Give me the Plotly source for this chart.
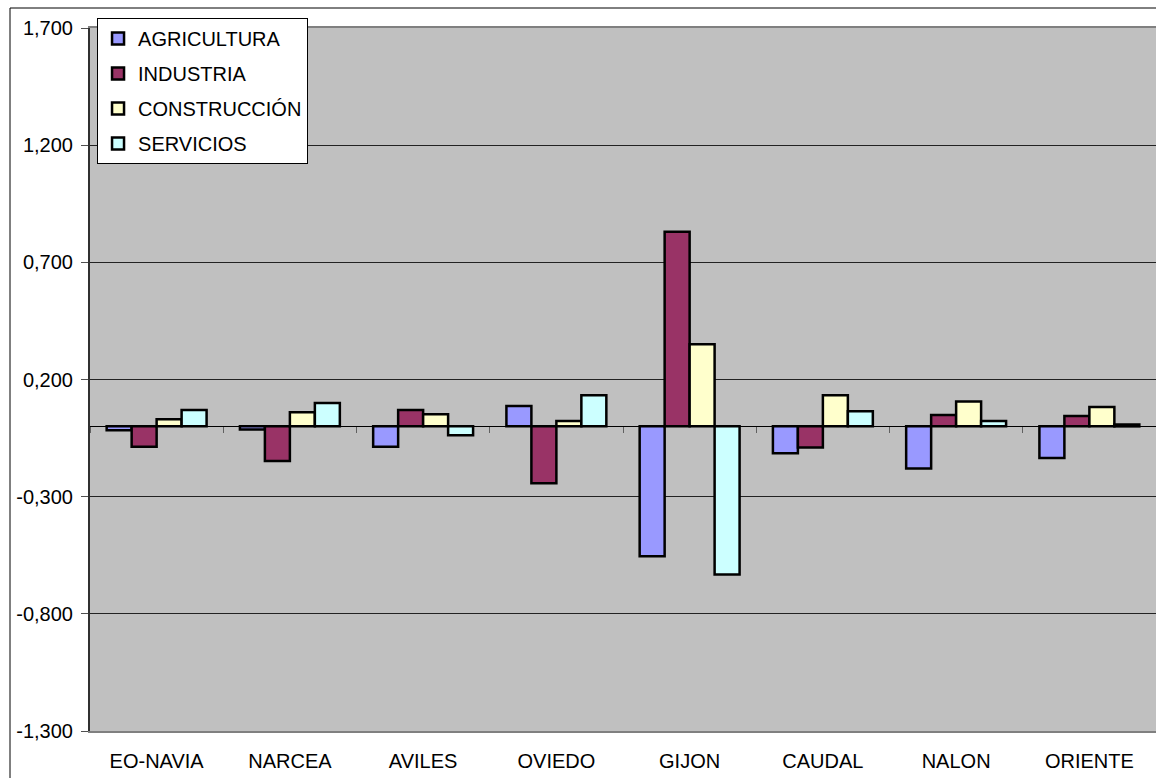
import plotly.graph_objects as go

categories = ["EO-NAVIA", "NARCEA", "AVILES", "OVIEDO", "GIJON", "CAUDAL", "NALON", "ORIENTE"]
agricultura = [-0.017, -0.013, -0.087, 0.087, -0.554, -0.115, -0.180, -0.135]
industria = [-0.087, -0.148, 0.070, -0.243, 0.830, -0.090, 0.048, 0.044]
construccion = [0.030, 0.060, 0.052, 0.023, 0.350, 0.133, 0.106, 0.083]
servicios = [0.070, 0.100, -0.038, 0.133, -0.632, 0.065, 0.023, 0.008]

series_names = ["AGRICULTURA", "INDUSTRIA", "CONSTRUCCIÓN", "SERVICIOS"]
series_values = [agricultura, industria, construccion, servicios]
series_colors = ["#9999FF", "#993366", "#FFFFCC", "#CCFFFF"]

y_tickvals = [1.7, 1.2, 0.7, 0.2, -0.3, -0.8, -1.3]
y_ticktext = ["1,700", "1,200", "0,700", "0,200", "-0,300", "-0,800", "-1,300"]
y_min, y_max = -1.3, 1.7

FONT = "Arial, Liberation Sans, sans-serif"

fig = go.Figure()
for i, (name, vals, col) in enumerate(zip(series_names, series_values, series_colors)):
    fig.add_trace(go.Bar(
        x=categories, y=vals, name=name,
        marker=dict(color=col, line=dict(color="black", width=2.5)),
        legendgroup=f"g{i}",
    ))

# invisible helper trace for category-boundary ticks on the zero line
fig.add_trace(go.Scatter(
    x=categories, y=[0] * len(categories), xaxis="x2", yaxis="y",
    mode="markers", marker=dict(opacity=0), showlegend=False, hoverinfo="skip",
))

fig.update_layout(
    width=1156, height=778,
    margin=dict(l=90, r=0, t=28, b=47),
    paper_bgcolor="white",
    plot_bgcolor="#C0C0C0",
    barmode="group", bargap=0.25, bargroupgap=0,
    font=dict(family=FONT, size=20, color="black"),
    showlegend=True,
    legend=dict(
        x=0.0066, y=(731 - 18) / 703, xanchor="left", yanchor="top",
        bgcolor="white", bordercolor="black", borderwidth=1,
        font=dict(family=FONT, size=20, color="black"),
        traceorder="grouped", tracegroupgap=6,
        itemwidth=30,
    ),
    xaxis=dict(
        type="category", showgrid=False, ticks="",
        showline=True, linecolor="#808080", linewidth=2, mirror=True,
        tickfont=dict(size=20), range=[-0.5, 7.5],
        ticklabelstandoff=11,
    ),
    xaxis2=dict(
        type="category", overlaying="x", anchor="free",
        position=(0 - y_min) / (y_max - y_min),
        side="bottom", showgrid=False, showline=False,
        ticks="outside", tickson="boundaries", ticklen=6, tickwidth=1,
        tickcolor="#606060", showticklabels=False, range=[-0.5, 7.5],
    ),
    yaxis=dict(
        range=[y_min, y_max], tickvals=y_tickvals, ticktext=y_ticktext,
        showgrid=True, gridcolor="#222222", gridwidth=1,
        zeroline=True, zerolinecolor="black", zerolinewidth=1,
        showline=True, linecolor="#303030", linewidth=2,
        ticks="outside", ticklen=7, tickcolor="#505050",
        tickfont=dict(size=20), ticklabelstandoff=4,
    ),
    shapes=[dict(
        type="rect", xref="paper", yref="paper",
        x0=(10 - 90) / 1066, x1=1.05, y0=-0.2, y1=(731 - 8) / 703,
        line=dict(color="black", width=1), fillcolor="rgba(0,0,0,0)", layer="below",
    )],
)

fig.write_html("out.html")
